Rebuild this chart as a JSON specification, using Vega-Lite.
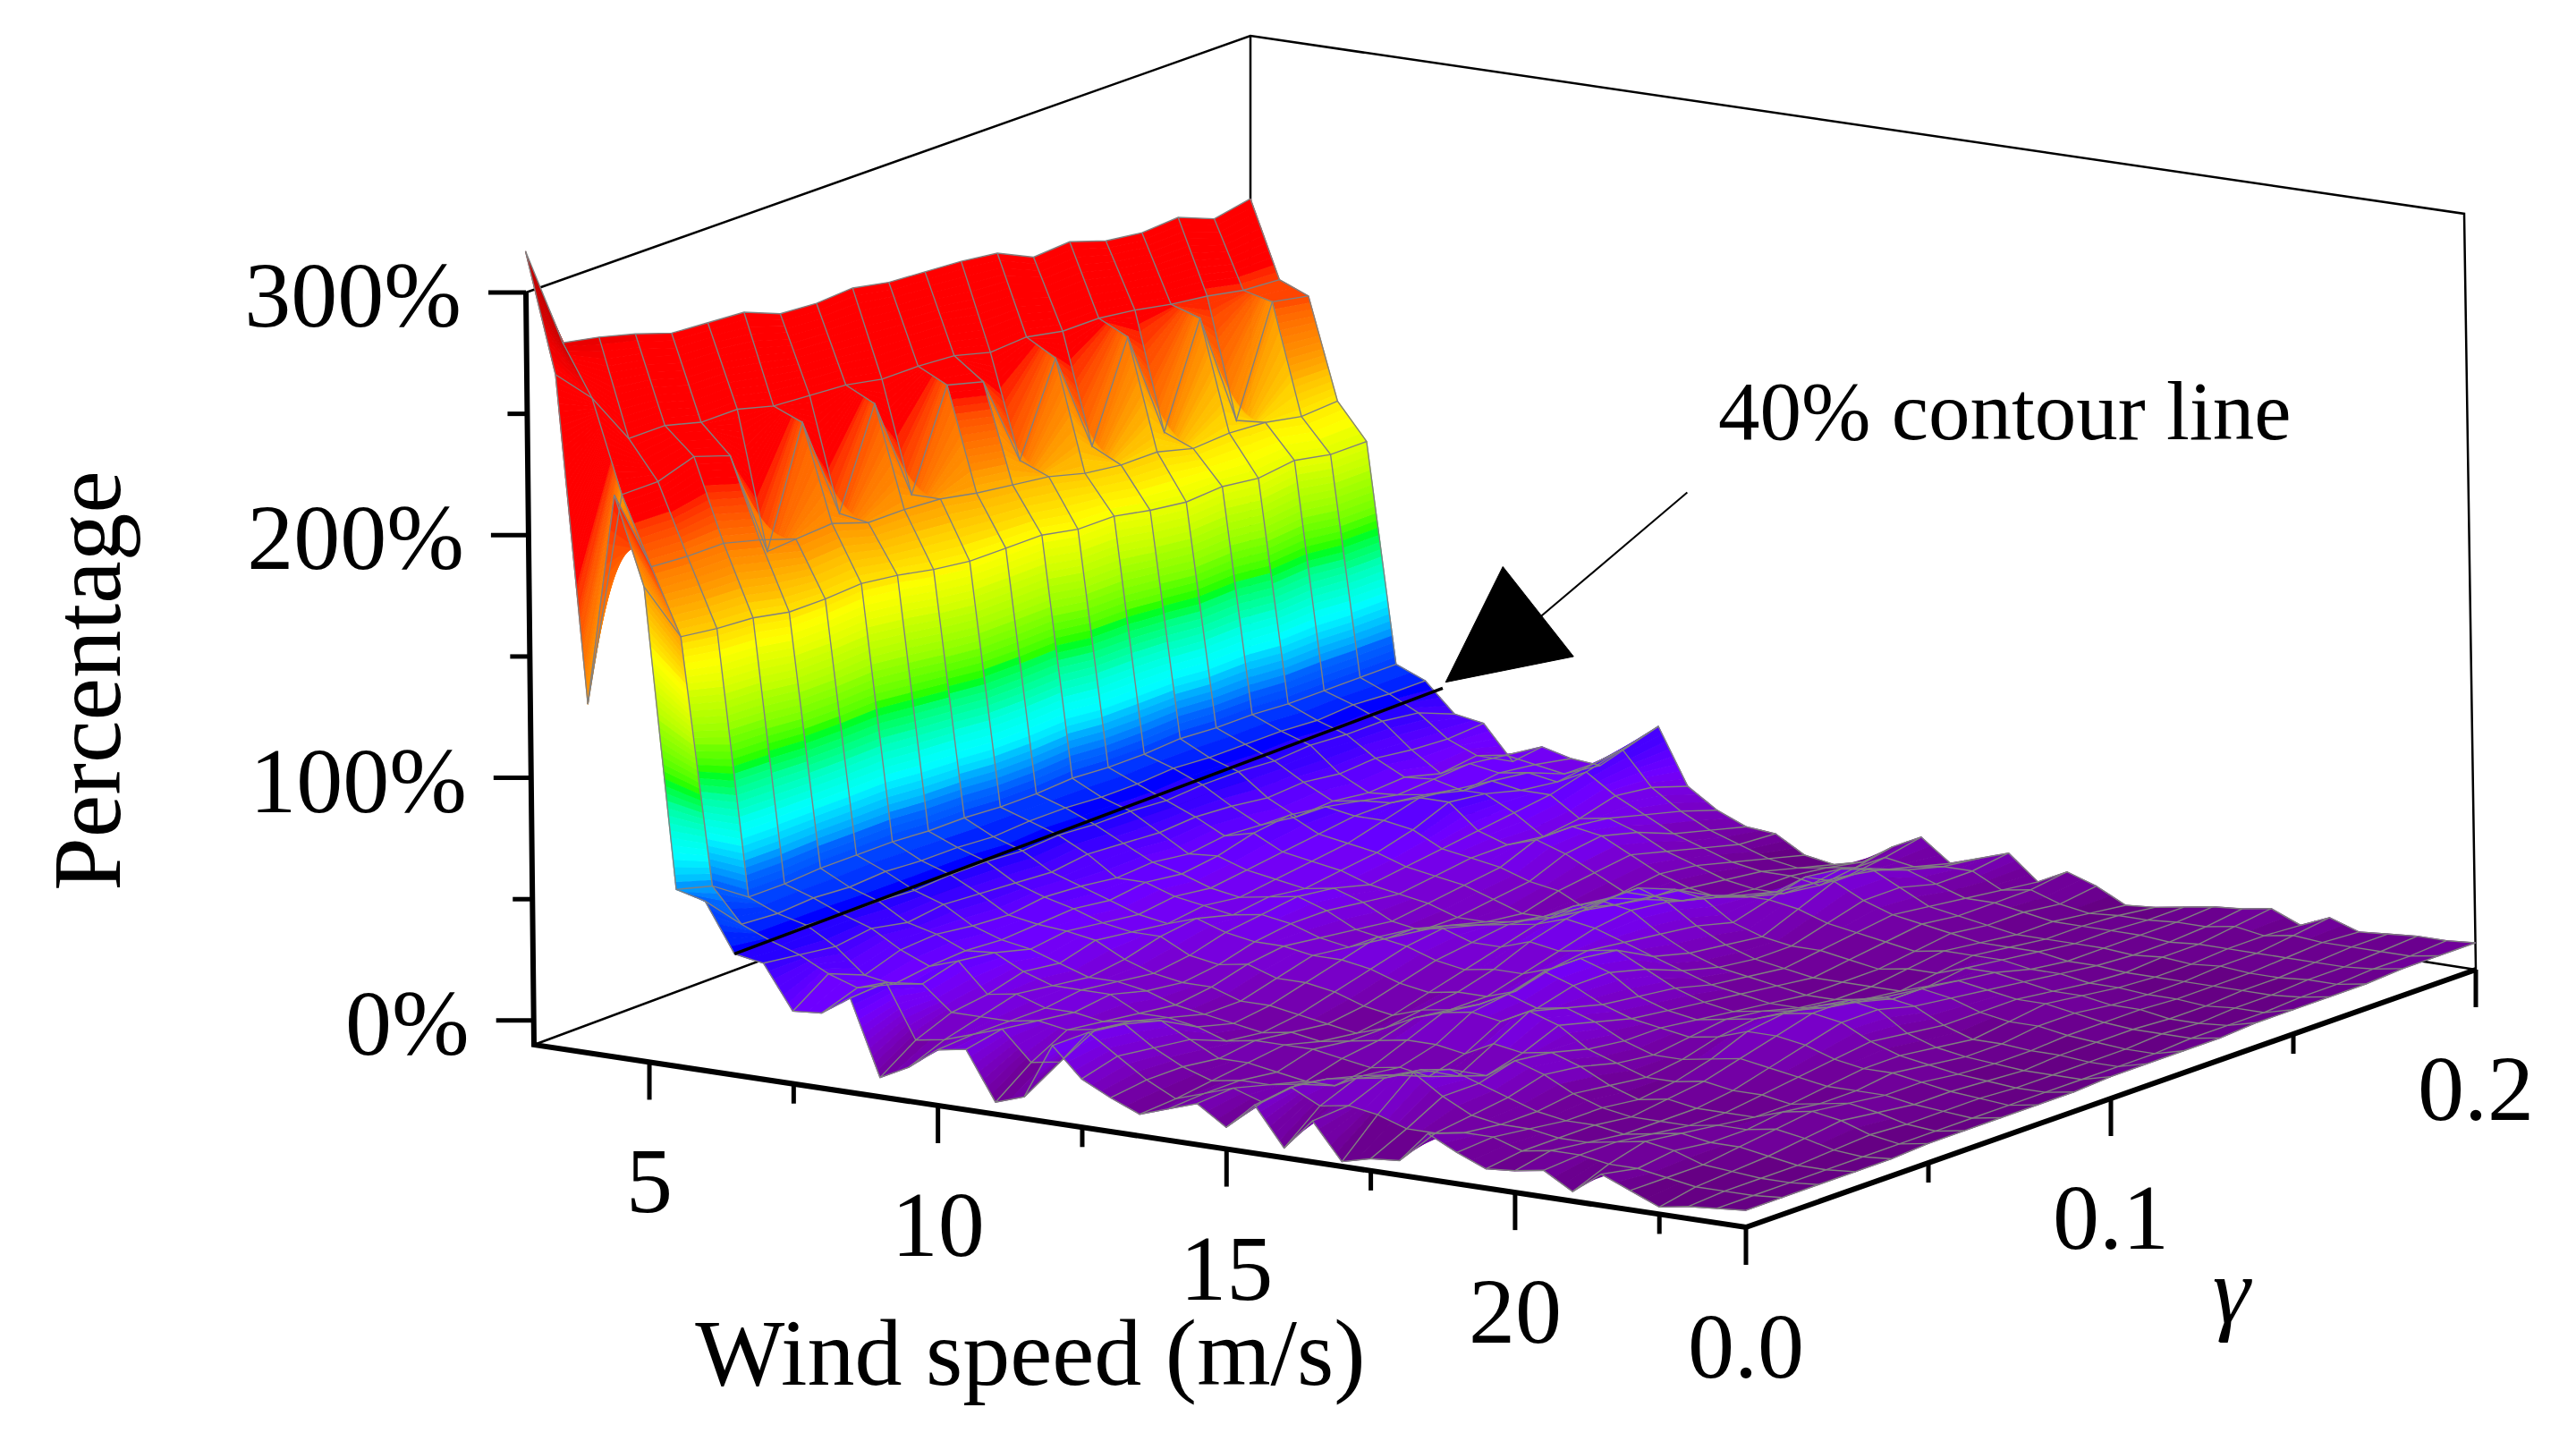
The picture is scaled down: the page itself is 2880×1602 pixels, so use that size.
{"$schema":"https://vega.github.io/schema/vega-lite/v6.json","autosize":{"type":"fit","contains":"padding"},"width":2880,"height":1602,"padding":0,"background":"white","view":{"stroke":null},
"datasets":{"grid":[
{"w":3,"g":0.2,"z":232},{"w":3,"g":0.19,"z":229},{"w":3,"g":0.18,"z":235},{"w":3,"g":0.17,"z":234},{"w":3,"g":0.16,"z":236},{"w":3,"g":0.15,"z":241},{"w":3,"g":0.14,"z":240},{"w":3,"g":0.13,"z":247},{"w":3,"g":0.12,"z":249},{"w":3,"g":0.11,"z":250},{"w":3,"g":0.1,"z":251},{"w":3,"g":0.09,"z":254},{"w":3,"g":0.08,"z":253},{"w":3,"g":0.07,"z":254},{"w":3,"g":0.06,"z":260},{"w":3,"g":0.05,"z":261},{"w":3,"g":0.04,"z":262},{"w":3,"g":0.03,"z":267},{"w":3,"g":0.02,"z":271},{"w":3,"g":0.01,"z":274},{"w":3,"g":0,"z":317},
{"w":3.5,"g":0.2,"z":200},{"w":3.5,"g":0.19,"z":201},{"w":3.5,"g":0.18,"z":204},{"w":3.5,"g":0.17,"z":206},{"w":3.5,"g":0.16,"z":209},{"w":3.5,"g":0.15,"z":211},{"w":3.5,"g":0.14,"z":211},{"w":3.5,"g":0.13,"z":214},{"w":3.5,"g":0.12,"z":213},{"w":3.5,"g":0.11,"z":217},{"w":3.5,"g":0.1,"z":218},{"w":3.5,"g":0.09,"z":218},{"w":3.5,"g":0.08,"z":221},{"w":3.5,"g":0.07,"z":222},{"w":3.5,"g":0.06,"z":223},{"w":3.5,"g":0.05,"z":227},{"w":3.5,"g":0.04,"z":227},{"w":3.5,"g":0.03,"z":231},{"w":3.5,"g":0.02,"z":231},{"w":3.5,"g":0.01,"z":253},{"w":3.5,"g":0,"z":268},
{"w":4,"g":0.2,"z":195},{"w":4,"g":0.19,"z":198},{"w":4,"g":0.18,"z":154},{"w":4,"g":0.17,"z":202},{"w":4,"g":0.16,"z":160},{"w":4,"g":0.15,"z":205},{"w":4,"g":0.14,"z":165},{"w":4,"g":0.13,"z":207},{"w":4,"g":0.12,"z":170},{"w":4,"g":0.11,"z":208},{"w":4,"g":0.1,"z":212},{"w":4,"g":0.09,"z":172},{"w":4,"g":0.08,"z":215},{"w":4,"g":0.07,"z":175},{"w":4,"g":0.06,"z":218},{"w":4,"g":0.05,"z":170},{"w":4,"g":0.04,"z":215},{"w":4,"g":0.03,"z":220},{"w":4,"g":0.02,"z":215},{"w":4,"g":0.01,"z":215},{"w":4,"g":0,"z":134},
{"w":4.5,"g":0.2,"z":153},{"w":4.5,"g":0.19,"z":152},{"w":4.5,"g":0.18,"z":155},{"w":4.5,"g":0.17,"z":156},{"w":4.5,"g":0.16,"z":155},{"w":4.5,"g":0.15,"z":159},{"w":4.5,"g":0.14,"z":159},{"w":4.5,"g":0.13,"z":161},{"w":4.5,"g":0.12,"z":165},{"w":4.5,"g":0.11,"z":167},{"w":4.5,"g":0.1,"z":169},{"w":4.5,"g":0.09,"z":172},{"w":4.5,"g":0.08,"z":173},{"w":4.5,"g":0.07,"z":173},{"w":4.5,"g":0.06,"z":178},{"w":4.5,"g":0.05,"z":177},{"w":4.5,"g":0.04,"z":182},{"w":4.5,"g":0.03,"z":186},{"w":4.5,"g":0.02,"z":186},{"w":4.5,"g":0.01,"z":187},{"w":4.5,"g":0,"z":222},
{"w":5,"g":0.2,"z":138},{"w":5,"g":0.19,"z":138},{"w":5,"g":0.18,"z":141},{"w":5,"g":0.17,"z":139},{"w":5,"g":0.16,"z":141},{"w":5,"g":0.15,"z":140},{"w":5,"g":0.14,"z":142},{"w":5,"g":0.13,"z":145},{"w":5,"g":0.12,"z":145},{"w":5,"g":0.11,"z":148},{"w":5,"g":0.1,"z":148},{"w":5,"g":0.09,"z":148},{"w":5,"g":0.08,"z":150},{"w":5,"g":0.07,"z":153},{"w":5,"g":0.06,"z":155},{"w":5,"g":0.05,"z":154},{"w":5,"g":0.04,"z":154},{"w":5,"g":0.03,"z":157},{"w":5,"g":0.02,"z":158},{"w":5,"g":0.01,"z":160},{"w":5,"g":0,"z":186},
{"w":5.5,"g":0.2,"z":47},{"w":5.5,"g":0.19,"z":47},{"w":5.5,"g":0.18,"z":47},{"w":5.5,"g":0.17,"z":47},{"w":5.5,"g":0.16,"z":48},{"w":5.5,"g":0.15,"z":48},{"w":5.5,"g":0.14,"z":49},{"w":5.5,"g":0.13,"z":48},{"w":5.5,"g":0.12,"z":48},{"w":5.5,"g":0.11,"z":49},{"w":5.5,"g":0.1,"z":48},{"w":5.5,"g":0.09,"z":48},{"w":5.5,"g":0.08,"z":49},{"w":5.5,"g":0.07,"z":49},{"w":5.5,"g":0.06,"z":50},{"w":5.5,"g":0.05,"z":50},{"w":5.5,"g":0.04,"z":50},{"w":5.5,"g":0.03,"z":49},{"w":5.5,"g":0.02,"z":49},{"w":5.5,"g":0.01,"z":59},{"w":5.5,"g":0,"z":63},
{"w":6,"g":0.2,"z":42},{"w":6,"g":0.19,"z":42},{"w":6,"g":0.18,"z":43},{"w":6,"g":0.17,"z":42},{"w":6,"g":0.16,"z":43},{"w":6,"g":0.15,"z":43},{"w":6,"g":0.14,"z":43},{"w":6,"g":0.13,"z":44},{"w":6,"g":0.12,"z":43},{"w":6,"g":0.11,"z":43},{"w":6,"g":0.1,"z":44},{"w":6,"g":0.09,"z":44},{"w":6,"g":0.08,"z":43},{"w":6,"g":0.07,"z":44},{"w":6,"g":0.06,"z":44},{"w":6,"g":0.05,"z":45},{"w":6,"g":0.04,"z":44},{"w":6,"g":0.03,"z":45},{"w":6,"g":0.02,"z":44},{"w":6,"g":0.01,"z":45},{"w":6,"g":0,"z":60},
{"w":6.5,"g":0.2,"z":30},{"w":6.5,"g":0.19,"z":36},{"w":6.5,"g":0.18,"z":38},{"w":6.5,"g":0.17,"z":38},{"w":6.5,"g":0.16,"z":39},{"w":6.5,"g":0.15,"z":38},{"w":6.5,"g":0.14,"z":39},{"w":6.5,"g":0.13,"z":39},{"w":6.5,"g":0.12,"z":38},{"w":6.5,"g":0.11,"z":39},{"w":6.5,"g":0.1,"z":39},{"w":6.5,"g":0.09,"z":40},{"w":6.5,"g":0.08,"z":39},{"w":6.5,"g":0.07,"z":40},{"w":6.5,"g":0.06,"z":40},{"w":6.5,"g":0.05,"z":39},{"w":6.5,"g":0.04,"z":40},{"w":6.5,"g":0.03,"z":40},{"w":6.5,"g":0.02,"z":41},{"w":6.5,"g":0.01,"z":40},{"w":6.5,"g":0,"z":40},
{"w":7,"g":0.2,"z":28},{"w":7,"g":0.19,"z":27},{"w":7,"g":0.18,"z":28},{"w":7,"g":0.17,"z":30},{"w":7,"g":0.16,"z":29},{"w":7,"g":0.15,"z":31},{"w":7,"g":0.14,"z":30},{"w":7,"g":0.13,"z":32},{"w":7,"g":0.12,"z":33},{"w":7,"g":0.11,"z":32},{"w":7,"g":0.1,"z":33},{"w":7,"g":0.09,"z":34},{"w":7,"g":0.08,"z":32},{"w":7,"g":0.07,"z":33},{"w":7,"g":0.06,"z":34},{"w":7,"g":0.05,"z":35},{"w":7,"g":0.04,"z":33},{"w":7,"g":0.03,"z":36},{"w":7,"g":0.02,"z":34},{"w":7,"g":0.01,"z":36},{"w":7,"g":0,"z":38},
{"w":7.5,"g":0.2,"z":14},{"w":7.5,"g":0.19,"z":22},{"w":7.5,"g":0.18,"z":20},{"w":7.5,"g":0.17,"z":24},{"w":7.5,"g":0.16,"z":23},{"w":7.5,"g":0.15,"z":25},{"w":7.5,"g":0.14,"z":24},{"w":7.5,"g":0.13,"z":26},{"w":7.5,"g":0.12,"z":27},{"w":7.5,"g":0.11,"z":25},{"w":7.5,"g":0.1,"z":27},{"w":7.5,"g":0.09,"z":26},{"w":7.5,"g":0.08,"z":28},{"w":7.5,"g":0.07,"z":29},{"w":7.5,"g":0.06,"z":27},{"w":7.5,"g":0.05,"z":28},{"w":7.5,"g":0.04,"z":30},{"w":7.5,"g":0.03,"z":29},{"w":7.5,"g":0.02,"z":24},{"w":7.5,"g":0.01,"z":30},{"w":7.5,"g":0,"z":20},
{"w":8,"g":0.2,"z":22},{"w":8,"g":0.19,"z":24},{"w":8,"g":0.18,"z":26},{"w":8,"g":0.17,"z":25},{"w":8,"g":0.16,"z":24},{"w":8,"g":0.15,"z":27},{"w":8,"g":0.14,"z":30},{"w":8,"g":0.13,"z":32},{"w":8,"g":0.12,"z":30},{"w":8,"g":0.11,"z":26},{"w":8,"g":0.1,"z":24},{"w":8,"g":0.09,"z":26},{"w":8,"g":0.08,"z":24},{"w":8,"g":0.07,"z":26},{"w":8,"g":0.06,"z":25},{"w":8,"g":0.05,"z":24},{"w":8,"g":0.04,"z":25},{"w":8,"g":0.03,"z":24},{"w":8,"g":0.02,"z":22},{"w":8,"g":0.01,"z":26},{"w":8,"g":0,"z":21},
{"w":8.5,"g":0.2,"z":19},{"w":8.5,"g":0.19,"z":22},{"w":8.5,"g":0.18,"z":24},{"w":8.5,"g":0.17,"z":22},{"w":8.5,"g":0.16,"z":26},{"w":8.5,"g":0.15,"z":28},{"w":8.5,"g":0.14,"z":28},{"w":8.5,"g":0.13,"z":26},{"w":8.5,"g":0.12,"z":24},{"w":8.5,"g":0.11,"z":22},{"w":8.5,"g":0.1,"z":20},{"w":8.5,"g":0.09,"z":22},{"w":8.5,"g":0.08,"z":20},{"w":8.5,"g":0.07,"z":22},{"w":8.5,"g":0.06,"z":24},{"w":8.5,"g":0.05,"z":22},{"w":8.5,"g":0.04,"z":26},{"w":8.5,"g":0.03,"z":28},{"w":8.5,"g":0.02,"z":24},{"w":8.5,"g":0.01,"z":30},{"w":8.5,"g":0,"z":29},
{"w":9,"g":0.2,"z":18},{"w":9,"g":0.19,"z":20},{"w":9,"g":0.18,"z":26},{"w":9,"g":0.17,"z":28},{"w":9,"g":0.16,"z":30},{"w":9,"g":0.15,"z":32},{"w":9,"g":0.14,"z":28},{"w":9,"g":0.13,"z":24},{"w":9,"g":0.12,"z":22},{"w":9,"g":0.11,"z":20},{"w":9,"g":0.1,"z":18},{"w":9,"g":0.09,"z":20},{"w":9,"g":0.08,"z":18},{"w":9,"g":0.07,"z":20},{"w":9,"g":0.06,"z":22},{"w":9,"g":0.05,"z":18},{"w":9,"g":0.04,"z":20},{"w":9,"g":0.03,"z":16},{"w":9,"g":0.02,"z":14},{"w":9,"g":0.01,"z":8},{"w":9,"g":0,"z":-2},
{"w":9.5,"g":0.2,"z":28},{"w":9.5,"g":0.19,"z":26},{"w":9.5,"g":0.18,"z":24},{"w":9.5,"g":0.17,"z":26},{"w":9.5,"g":0.16,"z":30},{"w":9.5,"g":0.15,"z":32},{"w":9.5,"g":0.14,"z":26},{"w":9.5,"g":0.13,"z":22},{"w":9.5,"g":0.12,"z":20},{"w":9.5,"g":0.11,"z":18},{"w":9.5,"g":0.1,"z":20},{"w":9.5,"g":0.09,"z":18},{"w":9.5,"g":0.08,"z":22},{"w":9.5,"g":0.07,"z":20},{"w":9.5,"g":0.06,"z":16},{"w":9.5,"g":0.05,"z":14},{"w":9.5,"g":0.04,"z":16},{"w":9.5,"g":0.03,"z":18},{"w":9.5,"g":0.02,"z":14},{"w":9.5,"g":0.01,"z":10},{"w":9.5,"g":0,"z":4},
{"w":10,"g":0.2,"z":38},{"w":10,"g":0.19,"z":34},{"w":10,"g":0.18,"z":30},{"w":10,"g":0.17,"z":26},{"w":10,"g":0.16,"z":24},{"w":10,"g":0.15,"z":22},{"w":10,"g":0.14,"z":20},{"w":10,"g":0.13,"z":18},{"w":10,"g":0.12,"z":16},{"w":10,"g":0.11,"z":20},{"w":10,"g":0.1,"z":22},{"w":10,"g":0.09,"z":20},{"w":10,"g":0.08,"z":18},{"w":10,"g":0.07,"z":14},{"w":10,"g":0.06,"z":12},{"w":10,"g":0.05,"z":14},{"w":10,"g":0.04,"z":16},{"w":10,"g":0.03,"z":14},{"w":10,"g":0.02,"z":14},{"w":10,"g":0.01,"z":14},{"w":10,"g":0,"z":13},
{"w":10.5,"g":0.2,"z":15},{"w":10.5,"g":0.19,"z":20},{"w":10.5,"g":0.18,"z":22},{"w":10.5,"g":0.17,"z":18},{"w":10.5,"g":0.16,"z":16},{"w":10.5,"g":0.15,"z":18},{"w":10.5,"g":0.14,"z":18},{"w":10.5,"g":0.13,"z":16},{"w":10.5,"g":0.12,"z":14},{"w":10.5,"g":0.11,"z":16},{"w":10.5,"g":0.1,"z":18},{"w":10.5,"g":0.09,"z":18},{"w":10.5,"g":0.08,"z":16},{"w":10.5,"g":0.07,"z":12},{"w":10.5,"g":0.06,"z":10},{"w":10.5,"g":0.05,"z":12},{"w":10.5,"g":0.04,"z":16},{"w":10.5,"g":0.03,"z":14},{"w":10.5,"g":0.02,"z":16},{"w":10.5,"g":0.01,"z":18},{"w":10.5,"g":0,"z":15},
{"w":11,"g":0.2,"z":7},{"w":11,"g":0.19,"z":12},{"w":11,"g":0.18,"z":16},{"w":11,"g":0.17,"z":20},{"w":11,"g":0.16,"z":22},{"w":11,"g":0.15,"z":22},{"w":11,"g":0.14,"z":16},{"w":11,"g":0.13,"z":14},{"w":11,"g":0.12,"z":12},{"w":11,"g":0.11,"z":10},{"w":11,"g":0.1,"z":12},{"w":11,"g":0.09,"z":14},{"w":11,"g":0.08,"z":16},{"w":11,"g":0.07,"z":14},{"w":11,"g":0.06,"z":10},{"w":11,"g":0.05,"z":8},{"w":11,"g":0.04,"z":10},{"w":11,"g":0.03,"z":12},{"w":11,"g":0.02,"z":14},{"w":11,"g":0.01,"z":6},{"w":11,"g":0,"z":-5},
{"w":11.5,"g":0.2,"z":2},{"w":11.5,"g":0.19,"z":6},{"w":11.5,"g":0.18,"z":10},{"w":11.5,"g":0.17,"z":16},{"w":11.5,"g":0.16,"z":20},{"w":11.5,"g":0.15,"z":18},{"w":11.5,"g":0.14,"z":12},{"w":11.5,"g":0.13,"z":10},{"w":11.5,"g":0.12,"z":8},{"w":11.5,"g":0.11,"z":8},{"w":11.5,"g":0.1,"z":10},{"w":11.5,"g":0.09,"z":12},{"w":11.5,"g":0.08,"z":14},{"w":11.5,"g":0.07,"z":10},{"w":11.5,"g":0.06,"z":6},{"w":11.5,"g":0.05,"z":6},{"w":11.5,"g":0.04,"z":10},{"w":11.5,"g":0.03,"z":14},{"w":11.5,"g":0.02,"z":16},{"w":11.5,"g":0.01,"z":8},{"w":11.5,"g":0,"z":-1},
{"w":12,"g":0.2,"z":1},{"w":12,"g":0.19,"z":2},{"w":12,"g":0.18,"z":6},{"w":12,"g":0.17,"z":10},{"w":12,"g":0.16,"z":14},{"w":12,"g":0.15,"z":12},{"w":12,"g":0.14,"z":10},{"w":12,"g":0.13,"z":6},{"w":12,"g":0.12,"z":8},{"w":12,"g":0.11,"z":12},{"w":12,"g":0.1,"z":16},{"w":12,"g":0.09,"z":18},{"w":12,"g":0.08,"z":14},{"w":12,"g":0.07,"z":10},{"w":12,"g":0.06,"z":6},{"w":12,"g":0.05,"z":4},{"w":12,"g":0.04,"z":8},{"w":12,"g":0.03,"z":16},{"w":12,"g":0.02,"z":20},{"w":12,"g":0.01,"z":22},{"w":12,"g":0,"z":22},
{"w":12.5,"g":0.2,"z":-6},{"w":12.5,"g":0.19,"z":-2},{"w":12.5,"g":0.18,"z":2},{"w":12.5,"g":0.17,"z":6},{"w":12.5,"g":0.16,"z":8},{"w":12.5,"g":0.15,"z":6},{"w":12.5,"g":0.14,"z":4},{"w":12.5,"g":0.13,"z":6},{"w":12.5,"g":0.12,"z":10},{"w":12.5,"g":0.11,"z":14},{"w":12.5,"g":0.1,"z":18},{"w":12.5,"g":0.09,"z":16},{"w":12.5,"g":0.08,"z":12},{"w":12.5,"g":0.07,"z":8},{"w":12.5,"g":0.06,"z":4},{"w":12.5,"g":0.05,"z":2},{"w":12.5,"g":0.04,"z":4},{"w":12.5,"g":0.03,"z":10},{"w":12.5,"g":0.02,"z":12},{"w":12.5,"g":0.01,"z":14},{"w":12.5,"g":0,"z":10},
{"w":13,"g":0.2,"z":-8},{"w":13,"g":0.19,"z":-4},{"w":13,"g":0.18,"z":0},{"w":13,"g":0.17,"z":2},{"w":13,"g":0.16,"z":4},{"w":13,"g":0.15,"z":6},{"w":13,"g":0.14,"z":8},{"w":13,"g":0.13,"z":12},{"w":13,"g":0.12,"z":14},{"w":13,"g":0.11,"z":16},{"w":13,"g":0.1,"z":14},{"w":13,"g":0.09,"z":12},{"w":13,"g":0.08,"z":8},{"w":13,"g":0.07,"z":4},{"w":13,"g":0.06,"z":2},{"w":13,"g":0.05,"z":4},{"w":13,"g":0.04,"z":6},{"w":13,"g":0.03,"z":4},{"w":13,"g":0.02,"z":6},{"w":13,"g":0.01,"z":6},{"w":13,"g":0,"z":4},
{"w":13.5,"g":0.2,"z":-5},{"w":13.5,"g":0.19,"z":-2},{"w":13.5,"g":0.18,"z":0},{"w":13.5,"g":0.17,"z":0},{"w":13.5,"g":0.16,"z":2},{"w":13.5,"g":0.15,"z":6},{"w":13.5,"g":0.14,"z":12},{"w":13.5,"g":0.13,"z":18},{"w":13.5,"g":0.12,"z":20},{"w":13.5,"g":0.11,"z":18},{"w":13.5,"g":0.1,"z":14},{"w":13.5,"g":0.09,"z":10},{"w":13.5,"g":0.08,"z":6},{"w":13.5,"g":0.07,"z":2},{"w":13.5,"g":0.06,"z":0},{"w":13.5,"g":0.05,"z":2},{"w":13.5,"g":0.04,"z":6},{"w":13.5,"g":0.03,"z":4},{"w":13.5,"g":0.02,"z":2},{"w":13.5,"g":0.01,"z":0},{"w":13.5,"g":0,"z":-1},
{"w":14,"g":0.2,"z":3},{"w":14,"g":0.19,"z":0},{"w":14,"g":0.18,"z":-2},{"w":14,"g":0.17,"z":0},{"w":14,"g":0.16,"z":4},{"w":14,"g":0.15,"z":10},{"w":14,"g":0.14,"z":18},{"w":14,"g":0.13,"z":24},{"w":14,"g":0.12,"z":24},{"w":14,"g":0.11,"z":22},{"w":14,"g":0.1,"z":18},{"w":14,"g":0.09,"z":12},{"w":14,"g":0.08,"z":8},{"w":14,"g":0.07,"z":6},{"w":14,"g":0.06,"z":4},{"w":14,"g":0.05,"z":4},{"w":14,"g":0.04,"z":6},{"w":14,"g":0.03,"z":2},{"w":14,"g":0.02,"z":4},{"w":14,"g":0.01,"z":4},{"w":14,"g":0,"z":3},
{"w":14.5,"g":0.2,"z":9},{"w":14.5,"g":0.19,"z":6},{"w":14.5,"g":0.18,"z":4},{"w":14.5,"g":0.17,"z":6},{"w":14.5,"g":0.16,"z":8},{"w":14.5,"g":0.15,"z":12},{"w":14.5,"g":0.14,"z":16},{"w":14.5,"g":0.13,"z":20},{"w":14.5,"g":0.12,"z":22},{"w":14.5,"g":0.11,"z":20},{"w":14.5,"g":0.1,"z":16},{"w":14.5,"g":0.09,"z":12},{"w":14.5,"g":0.08,"z":8},{"w":14.5,"g":0.07,"z":8},{"w":14.5,"g":0.06,"z":10},{"w":14.5,"g":0.05,"z":6},{"w":14.5,"g":0.04,"z":4},{"w":14.5,"g":0.03,"z":0},{"w":14.5,"g":0.02,"z":4},{"w":14.5,"g":0.01,"z":8},{"w":14.5,"g":0,"z":7},
{"w":15,"g":0.2,"z":0},{"w":15,"g":0.19,"z":4},{"w":15,"g":0.18,"z":8},{"w":15,"g":0.17,"z":14},{"w":15,"g":0.16,"z":16},{"w":15,"g":0.15,"z":12},{"w":15,"g":0.14,"z":8},{"w":15,"g":0.13,"z":12},{"w":15,"g":0.12,"z":14},{"w":15,"g":0.11,"z":16},{"w":15,"g":0.1,"z":18},{"w":15,"g":0.09,"z":16},{"w":15,"g":0.08,"z":12},{"w":15,"g":0.07,"z":12},{"w":15,"g":0.06,"z":14},{"w":15,"g":0.05,"z":8},{"w":15,"g":0.04,"z":2},{"w":15,"g":0.03,"z":0},{"w":15,"g":0.02,"z":6},{"w":15,"g":0.01,"z":4},{"w":15,"g":0,"z":-1},
{"w":15.5,"g":0.2,"z":4},{"w":15.5,"g":0.19,"z":6},{"w":15.5,"g":0.18,"z":10},{"w":15.5,"g":0.17,"z":16},{"w":15.5,"g":0.16,"z":16},{"w":15.5,"g":0.15,"z":10},{"w":15.5,"g":0.14,"z":4},{"w":15.5,"g":0.13,"z":6},{"w":15.5,"g":0.12,"z":8},{"w":15.5,"g":0.11,"z":12},{"w":15.5,"g":0.1,"z":20},{"w":15.5,"g":0.09,"z":22},{"w":15.5,"g":0.08,"z":22},{"w":15.5,"g":0.07,"z":18},{"w":15.5,"g":0.06,"z":16},{"w":15.5,"g":0.05,"z":8},{"w":15.5,"g":0.04,"z":4},{"w":15.5,"g":0.03,"z":6},{"w":15.5,"g":0.02,"z":10},{"w":15.5,"g":0.01,"z":12},{"w":15.5,"g":0,"z":10},
{"w":16,"g":0.2,"z":8},{"w":16,"g":0.19,"z":6},{"w":16,"g":0.18,"z":6},{"w":16,"g":0.17,"z":10},{"w":16,"g":0.16,"z":10},{"w":16,"g":0.15,"z":6},{"w":16,"g":0.14,"z":2},{"w":16,"g":0.13,"z":2},{"w":16,"g":0.12,"z":4},{"w":16,"g":0.11,"z":8},{"w":16,"g":0.1,"z":14},{"w":16,"g":0.09,"z":18},{"w":16,"g":0.08,"z":18},{"w":16,"g":0.07,"z":14},{"w":16,"g":0.06,"z":14},{"w":16,"g":0.05,"z":6},{"w":16,"g":0.04,"z":2},{"w":16,"g":0.03,"z":8},{"w":16,"g":0.02,"z":12},{"w":16,"g":0.01,"z":6},{"w":16,"g":0,"z":-6},
{"w":16.5,"g":0.2,"z":-2},{"w":16.5,"g":0.19,"z":0},{"w":16.5,"g":0.18,"z":2},{"w":16.5,"g":0.17,"z":4},{"w":16.5,"g":0.16,"z":6},{"w":16.5,"g":0.15,"z":4},{"w":16.5,"g":0.14,"z":2},{"w":16.5,"g":0.13,"z":0},{"w":16.5,"g":0.12,"z":2},{"w":16.5,"g":0.11,"z":4},{"w":16.5,"g":0.1,"z":8},{"w":16.5,"g":0.09,"z":10},{"w":16.5,"g":0.08,"z":12},{"w":16.5,"g":0.07,"z":16},{"w":16.5,"g":0.06,"z":20},{"w":16.5,"g":0.05,"z":12},{"w":16.5,"g":0.04,"z":4},{"w":16.5,"g":0.03,"z":12},{"w":16.5,"g":0.02,"z":14},{"w":16.5,"g":0.01,"z":8},{"w":16.5,"g":0,"z":7},
{"w":17,"g":0.2,"z":4},{"w":17,"g":0.19,"z":2},{"w":17,"g":0.18,"z":2},{"w":17,"g":0.17,"z":2},{"w":17,"g":0.16,"z":4},{"w":17,"g":0.15,"z":2},{"w":17,"g":0.14,"z":0},{"w":17,"g":0.13,"z":-2},{"w":17,"g":0.12,"z":0},{"w":17,"g":0.11,"z":2},{"w":17,"g":0.1,"z":4},{"w":17,"g":0.09,"z":6},{"w":17,"g":0.08,"z":8},{"w":17,"g":0.07,"z":12},{"w":17,"g":0.06,"z":16},{"w":17,"g":0.05,"z":10},{"w":17,"g":0.04,"z":6},{"w":17,"g":0.03,"z":14},{"w":17,"g":0.02,"z":18},{"w":17,"g":0.01,"z":6},{"w":17,"g":0,"z":-8},
{"w":17.5,"g":0.2,"z":0},{"w":17.5,"g":0.19,"z":-2},{"w":17.5,"g":0.18,"z":0},{"w":17.5,"g":0.17,"z":0},{"w":17.5,"g":0.16,"z":2},{"w":17.5,"g":0.15,"z":0},{"w":17.5,"g":0.14,"z":-2},{"w":17.5,"g":0.13,"z":-2},{"w":17.5,"g":0.12,"z":-2},{"w":17.5,"g":0.11,"z":0},{"w":17.5,"g":0.1,"z":2},{"w":17.5,"g":0.09,"z":4},{"w":17.5,"g":0.08,"z":6},{"w":17.5,"g":0.07,"z":6},{"w":17.5,"g":0.06,"z":8},{"w":17.5,"g":0.05,"z":12},{"w":17.5,"g":0.04,"z":14},{"w":17.5,"g":0.03,"z":10},{"w":17.5,"g":0.02,"z":10},{"w":17.5,"g":0.01,"z":2},{"w":17.5,"g":0,"z":-5},
{"w":18,"g":0.2,"z":-6},{"w":18,"g":0.19,"z":-4},{"w":18,"g":0.18,"z":-2},{"w":18,"g":0.17,"z":-2},{"w":18,"g":0.16,"z":0},{"w":18,"g":0.15,"z":2},{"w":18,"g":0.14,"z":0},{"w":18,"g":0.13,"z":-2},{"w":18,"g":0.12,"z":-2},{"w":18,"g":0.11,"z":0},{"w":18,"g":0.1,"z":4},{"w":18,"g":0.09,"z":6},{"w":18,"g":0.08,"z":4},{"w":18,"g":0.07,"z":2},{"w":18,"g":0.06,"z":4},{"w":18,"g":0.05,"z":8},{"w":18,"g":0.04,"z":10},{"w":18,"g":0.03,"z":6},{"w":18,"g":0.02,"z":4},{"w":18,"g":0.01,"z":2},{"w":18,"g":0,"z":-4},
{"w":18.5,"g":0.2,"z":-5},{"w":18.5,"g":0.19,"z":-3},{"w":18.5,"g":0.18,"z":-2},{"w":18.5,"g":0.17,"z":-2},{"w":18.5,"g":0.16,"z":0},{"w":18.5,"g":0.15,"z":2},{"w":18.5,"g":0.14,"z":0},{"w":18.5,"g":0.13,"z":-2},{"w":18.5,"g":0.12,"z":0},{"w":18.5,"g":0.11,"z":2},{"w":18.5,"g":0.1,"z":6},{"w":18.5,"g":0.09,"z":8},{"w":18.5,"g":0.08,"z":6},{"w":18.5,"g":0.07,"z":2},{"w":18.5,"g":0.06,"z":0},{"w":18.5,"g":0.05,"z":2},{"w":18.5,"g":0.04,"z":4},{"w":18.5,"g":0.03,"z":2},{"w":18.5,"g":0.02,"z":2},{"w":18.5,"g":0.01,"z":4},{"w":18.5,"g":0,"z":9},
{"w":19,"g":0.2,"z":-3},{"w":19,"g":0.19,"z":-3},{"w":19,"g":0.18,"z":-2},{"w":19,"g":0.17,"z":-2},{"w":19,"g":0.16,"z":0},{"w":19,"g":0.15,"z":2},{"w":19,"g":0.14,"z":4},{"w":19,"g":0.13,"z":2},{"w":19,"g":0.12,"z":2},{"w":19,"g":0.11,"z":6},{"w":19,"g":0.1,"z":10},{"w":19,"g":0.09,"z":12},{"w":19,"g":0.08,"z":10},{"w":19,"g":0.07,"z":4},{"w":19,"g":0.06,"z":0},{"w":19,"g":0.05,"z":-2},{"w":19,"g":0.04,"z":0},{"w":19,"g":0.03,"z":0},{"w":19,"g":0.02,"z":2},{"w":19,"g":0.01,"z":4},{"w":19,"g":0,"z":3},
{"w":19.5,"g":0.2,"z":-1},{"w":19.5,"g":0.19,"z":-2},{"w":19.5,"g":0.18,"z":-2},{"w":19.5,"g":0.17,"z":-2},{"w":19.5,"g":0.16,"z":-2},{"w":19.5,"g":0.15,"z":0},{"w":19.5,"g":0.14,"z":4},{"w":19.5,"g":0.13,"z":6},{"w":19.5,"g":0.12,"z":8},{"w":19.5,"g":0.11,"z":10},{"w":19.5,"g":0.1,"z":14},{"w":19.5,"g":0.09,"z":14},{"w":19.5,"g":0.08,"z":10},{"w":19.5,"g":0.07,"z":6},{"w":19.5,"g":0.06,"z":2},{"w":19.5,"g":0.05,"z":0},{"w":19.5,"g":0.04,"z":-2},{"w":19.5,"g":0.03,"z":0},{"w":19.5,"g":0.02,"z":0},{"w":19.5,"g":0.01,"z":0},{"w":19.5,"g":0,"z":-2},
{"w":20,"g":0.2,"z":0},{"w":20,"g":0.19,"z":-2},{"w":20,"g":0.18,"z":-3},{"w":20,"g":0.17,"z":-3},{"w":20,"g":0.16,"z":-2},{"w":20,"g":0.15,"z":0},{"w":20,"g":0.14,"z":2},{"w":20,"g":0.13,"z":4},{"w":20,"g":0.12,"z":6},{"w":20,"g":0.11,"z":8},{"w":20,"g":0.1,"z":12},{"w":20,"g":0.09,"z":12},{"w":20,"g":0.08,"z":8},{"w":20,"g":0.07,"z":4},{"w":20,"g":0.06,"z":0},{"w":20,"g":0.05,"z":-2},{"w":20,"g":0.04,"z":-2},{"w":20,"g":0.03,"z":-2},{"w":20,"g":0.02,"z":0},{"w":20,"g":0.01,"z":2},{"w":20,"g":0,"z":-1},
{"w":20.5,"g":0.2,"z":2},{"w":20.5,"g":0.19,"z":0},{"w":20.5,"g":0.18,"z":-2},{"w":20.5,"g":0.17,"z":-2},{"w":20.5,"g":0.16,"z":-3},{"w":20.5,"g":0.15,"z":-2},{"w":20.5,"g":0.14,"z":0},{"w":20.5,"g":0.13,"z":2},{"w":20.5,"g":0.12,"z":2},{"w":20.5,"g":0.11,"z":2},{"w":20.5,"g":0.1,"z":4},{"w":20.5,"g":0.09,"z":6},{"w":20.5,"g":0.08,"z":4},{"w":20.5,"g":0.07,"z":2},{"w":20.5,"g":0.06,"z":0},{"w":20.5,"g":0.05,"z":-2},{"w":20.5,"g":0.04,"z":-2},{"w":20.5,"g":0.03,"z":0},{"w":20.5,"g":0.02,"z":2},{"w":20.5,"g":0.01,"z":2},{"w":20.5,"g":0,"z":1},
{"w":21,"g":0.2,"z":-3},{"w":21,"g":0.19,"z":-2},{"w":21,"g":0.18,"z":-2},{"w":21,"g":0.17,"z":-3},{"w":21,"g":0.16,"z":-3},{"w":21,"g":0.15,"z":-2},{"w":21,"g":0.14,"z":0},{"w":21,"g":0.13,"z":2},{"w":21,"g":0.12,"z":0},{"w":21,"g":0.11,"z":-2},{"w":21,"g":0.1,"z":0},{"w":21,"g":0.09,"z":2},{"w":21,"g":0.08,"z":2},{"w":21,"g":0.07,"z":0},{"w":21,"g":0.06,"z":-2},{"w":21,"g":0.05,"z":-2},{"w":21,"g":0.04,"z":0},{"w":21,"g":0.03,"z":2},{"w":21,"g":0.02,"z":4},{"w":21,"g":0.01,"z":0},{"w":21,"g":0,"z":-6},
{"w":21.5,"g":0.2,"z":2},{"w":21.5,"g":0.19,"z":0},{"w":21.5,"g":0.18,"z":-2},{"w":21.5,"g":0.17,"z":-2},{"w":21.5,"g":0.16,"z":-3},{"w":21.5,"g":0.15,"z":-3},{"w":21.5,"g":0.14,"z":-2},{"w":21.5,"g":0.13,"z":0},{"w":21.5,"g":0.12,"z":0},{"w":21.5,"g":0.11,"z":-2},{"w":21.5,"g":0.1,"z":-2},{"w":21.5,"g":0.09,"z":0},{"w":21.5,"g":0.08,"z":2},{"w":21.5,"g":0.07,"z":0},{"w":21.5,"g":0.06,"z":0},{"w":21.5,"g":0.05,"z":2},{"w":21.5,"g":0.04,"z":0},{"w":21.5,"g":0.03,"z":0},{"w":21.5,"g":0.02,"z":2},{"w":21.5,"g":0.01,"z":0},{"w":21.5,"g":0,"z":3},
{"w":22,"g":0.2,"z":-2},{"w":22,"g":0.19,"z":-1},{"w":22,"g":0.18,"z":-2},{"w":22,"g":0.17,"z":-3},{"w":22,"g":0.16,"z":-3},{"w":22,"g":0.15,"z":-3},{"w":22,"g":0.14,"z":-2},{"w":22,"g":0.13,"z":-2},{"w":22,"g":0.12,"z":-2},{"w":22,"g":0.11,"z":-3},{"w":22,"g":0.1,"z":-3},{"w":22,"g":0.09,"z":-2},{"w":22,"g":0.08,"z":0},{"w":22,"g":0.07,"z":0},{"w":22,"g":0.06,"z":2},{"w":22,"g":0.05,"z":4},{"w":22,"g":0.04,"z":2},{"w":22,"g":0.03,"z":0},{"w":22,"g":0.02,"z":-2},{"w":22,"g":0.01,"z":-2},{"w":22,"g":0,"z":-2},
{"w":22.5,"g":0.2,"z":-1},{"w":22.5,"g":0.19,"z":-1},{"w":22.5,"g":0.18,"z":-2},{"w":22.5,"g":0.17,"z":-3},{"w":22.5,"g":0.16,"z":-3},{"w":22.5,"g":0.15,"z":-4},{"w":22.5,"g":0.14,"z":-4},{"w":22.5,"g":0.13,"z":-3},{"w":22.5,"g":0.12,"z":-3},{"w":22.5,"g":0.11,"z":-3},{"w":22.5,"g":0.1,"z":-4},{"w":22.5,"g":0.09,"z":-3},{"w":22.5,"g":0.08,"z":-2},{"w":22.5,"g":0.07,"z":-2},{"w":22.5,"g":0.06,"z":0},{"w":22.5,"g":0.05,"z":2},{"w":22.5,"g":0.04,"z":0},{"w":22.5,"g":0.03,"z":-2},{"w":22.5,"g":0.02,"z":-3},{"w":22.5,"g":0.01,"z":-4},{"w":22.5,"g":0,"z":-7},
{"w":23,"g":0.2,"z":0},{"w":23,"g":0.19,"z":-1},{"w":23,"g":0.18,"z":-2},{"w":23,"g":0.17,"z":-2},{"w":23,"g":0.16,"z":-3},{"w":23,"g":0.15,"z":-3},{"w":23,"g":0.14,"z":-4},{"w":23,"g":0.13,"z":-3},{"w":23,"g":0.12,"z":-4},{"w":23,"g":0.11,"z":-4},{"w":23,"g":0.1,"z":-4},{"w":23,"g":0.09,"z":-4},{"w":23,"g":0.08,"z":-3},{"w":23,"g":0.07,"z":-3},{"w":23,"g":0.06,"z":-3},{"w":23,"g":0.05,"z":-2},{"w":23,"g":0.04,"z":-3},{"w":23,"g":0.03,"z":-4},{"w":23,"g":0.02,"z":-4},{"w":23,"g":0.01,"z":-4},{"w":23,"g":0,"z":-5},
{"w":23.5,"g":0.2,"z":0},{"w":23.5,"g":0.19,"z":-1},{"w":23.5,"g":0.18,"z":-1},{"w":23.5,"g":0.17,"z":-2},{"w":23.5,"g":0.16,"z":-2},{"w":23.5,"g":0.15,"z":-3},{"w":23.5,"g":0.14,"z":-3},{"w":23.5,"g":0.13,"z":-3},{"w":23.5,"g":0.12,"z":-4},{"w":23.5,"g":0.11,"z":-4},{"w":23.5,"g":0.1,"z":-4},{"w":23.5,"g":0.09,"z":-4},{"w":23.5,"g":0.08,"z":-4},{"w":23.5,"g":0.07,"z":-4},{"w":23.5,"g":0.06,"z":-4},{"w":23.5,"g":0.05,"z":-4},{"w":23.5,"g":0.04,"z":-4},{"w":23.5,"g":0.03,"z":-4},{"w":23.5,"g":0.02,"z":-4},{"w":23.5,"g":0.01,"z":-4},{"w":23.5,"g":0,"z":-4},
{"w":24,"g":0.2,"z":1},{"w":24,"g":0.19,"z":1},{"w":24,"g":0.18,"z":1},{"w":24,"g":0.17,"z":0},{"w":24,"g":0.16,"z":0},{"w":24,"g":0.15,"z":0},{"w":24,"g":0.14,"z":0},{"w":24,"g":0.13,"z":-1},{"w":24,"g":0.12,"z":-1},{"w":24,"g":0.11,"z":-1},{"w":24,"g":0.1,"z":-1},{"w":24,"g":0.09,"z":-2},{"w":24,"g":0.08,"z":-2},{"w":24,"g":0.07,"z":-2},{"w":24,"g":0.06,"z":-2},{"w":24,"g":0.05,"z":-2},{"w":24,"g":0.04,"z":-3},{"w":24,"g":0.03,"z":-3},{"w":24,"g":0.02,"z":-3},{"w":24,"g":0.01,"z":-3},{"w":24,"g":0,"z":-3}
],
"anno":[
{"part":"box","id":"floor","n":0,"w":3,"g":0,"z":-10},{"part":"box","id":"floor","n":1,"w":3,"g":0.2,"z":-10},{"part":"box","id":"floor","n":2,"w":24,"g":0.2,"z":-10},
{"part":"box","id":"back","n":0,"w":3,"g":0.2,"z":-10},{"part":"box","id":"back","n":1,"w":3,"g":0.2,"z":300},
{"part":"box","id":"top","n":0,"w":3,"g":0,"z":300},{"part":"box","id":"top","n":1,"w":3,"g":0.2,"z":300},{"part":"box","id":"top","n":2,"w":24,"g":0.2,"z":300},{"part":"box","id":"top","n":3,"w":24,"g":0.2,"z":-10},
{"part":"axis","n":0,"w":3,"g":0,"z":300},{"part":"axis","n":1,"w":3,"g":0,"z":-10},{"part":"axis","n":2,"w":24,"g":0,"z":-10},{"part":"axis","n":3,"w":24,"g":0.2,"z":-10},
{"part":"contour","n":0,"w":6.5,"g":0,"z":40},{"part":"contour","n":1,"w":6.3,"g":0.2,"z":40},
{"part":"arrow","n":0,"w":10.52,"g":0.2,"z":137},{"part":"arrow","n":1,"w":7.9,"g":0.2,"z":74},
{"part":"tri","n":0,"w":6.35,"g":0.2,"z":42.7},{"part":"tri","n":1,"w":7.34,"g":0.2,"z":94.5},{"part":"tri","n":2,"w":8.55,"g":0.2,"z":61.6},{"part":"tri","n":3,"w":6.35,"g":0.2,"z":42.7},
{"part":"tick","dir":"left","major":1,"w":3,"g":0,"z":0},{"part":"tick","dir":"left","major":0,"w":3,"g":0,"z":50},{"part":"tick","dir":"left","major":1,"w":3,"g":0,"z":100},{"part":"tick","dir":"left","major":0,"w":3,"g":0,"z":150},{"part":"tick","dir":"left","major":1,"w":3,"g":0,"z":200},{"part":"tick","dir":"left","major":0,"w":3,"g":0,"z":250},{"part":"tick","dir":"left","major":1,"w":3,"g":0,"z":300},
{"part":"tick","dir":"down","major":1,"w":5,"g":0,"z":-10},{"part":"tick","dir":"down","major":0,"w":7.5,"g":0,"z":-10},{"part":"tick","dir":"down","major":1,"w":10,"g":0,"z":-10},{"part":"tick","dir":"down","major":0,"w":12.5,"g":0,"z":-10},{"part":"tick","dir":"down","major":1,"w":15,"g":0,"z":-10},{"part":"tick","dir":"down","major":0,"w":17.5,"g":0,"z":-10},{"part":"tick","dir":"down","major":1,"w":20,"g":0,"z":-10},{"part":"tick","dir":"down","major":0,"w":22.5,"g":0,"z":-10},
{"part":"tick","dir":"down","major":1,"w":24,"g":0,"z":-10},{"part":"tick","dir":"down","major":0,"w":24,"g":0.05,"z":-10},{"part":"tick","dir":"down","major":1,"w":24,"g":0.1,"z":-10},{"part":"tick","dir":"down","major":0,"w":24,"g":0.15,"z":-10},{"part":"tick","dir":"down","major":1,"w":24,"g":0.2,"z":-10},
{"part":"zlab","label":"0%","w":3,"g":0,"z":0},{"part":"zlab","label":"100%","w":3,"g":0,"z":100},{"part":"zlab","label":"200%","w":3,"g":0,"z":200},{"part":"zlab","label":"300%","w":3,"g":0,"z":300},
{"part":"xlab","label":"5","w":5,"g":0,"z":-10},{"part":"xlab","label":"10","w":10,"g":0,"z":-10},{"part":"xlab","label":"15","w":15,"g":0,"z":-10},{"part":"xlab","label":"20","w":20,"g":0,"z":-10},
{"part":"xlab","label":"0.0","w":24,"g":0,"z":-10},{"part":"xlab","label":"0.1","w":24,"g":0.1,"z":-10},{"part":"xlab","label":"0.2","w":24,"g":0.2,"z":-10},
{"part":"xtitle","label":"Wind speed (m/s)","w":11.6,"g":0,"z":-10},
{"part":"gtitle","label":"γ","w":24,"g":0.133,"z":-10},
{"part":"ztitle","label":"Percentage","w":3,"g":0,"z":140},
{"part":"note","label":"40% contour line","w":16,"g":0.2,"z":179}
]},
"encoding":{"x":{"field":"px","type":"quantitative","scale":{"domain":[0,2880],"nice":false,"zero":false},"axis":null},"y":{"field":"py","type":"quantitative","scale":{"domain":[0,1602],"nice":false,"zero":false,"reverse":true},"axis":null}},
"layer":[
{"data":{"name":"anno"},
"transform":[{"calculate":"(datum.w-3)/21","as":"u"},{"calculate":"datum.g/0.2","as":"v"},
{"calculate":"597*(1-datum.u)*(1-datum.v)+1952*datum.u*(1-datum.v)+2768*datum.u*datum.v+1398*(1-datum.u)*datum.v-(9*(1-datum.u)*(1-datum.v)+15*datum.u*(1-datum.v)+13*datum.u*datum.v)*(datum.z+10)/310","as":"px"},
{"calculate":"1168*(1-datum.u)*(1-datum.v)+1372*datum.u*(1-datum.v)+1084*datum.u*datum.v+870*(1-datum.u)*datum.v-(datum.z+10)*(2.713*(1-datum.u)*(1-datum.v)+2.7*datum.u*(1-datum.v)+2.726*datum.u*datum.v+2.677*(1-datum.u)*datum.v)","as":"py"}],
"layer":[
{"transform":[{"filter":"datum.part=='box'"}],"mark":{"type":"line","stroke":"black","strokeWidth":2.5},"encoding":{"detail":{"field":"id"},"order":{"field":"n","type":"quantitative"}}},
{"transform":[{"filter":"datum.part=='axis'"}],"mark":{"type":"line","stroke":"black","strokeWidth":6},"encoding":{"order":{"field":"n","type":"quantitative"}}}
]},
{"data":{"name":"grid"},
"transform":[
{"window":[{"op":"lead","field":"z","param":1,"as":"zE"},{"op":"lead","field":"w","param":1,"as":"wE"}],"groupby":["g"],"sort":[{"field":"w","order":"ascending"}]},
{"window":[{"op":"lead","field":"z","param":1,"as":"zN"},{"op":"lead","field":"zE","param":1,"as":"zNE"},{"op":"lead","field":"g","param":1,"as":"gN"}],"groupby":["w"],"sort":[{"field":"g","order":"ascending"}]},
{"filter":"datum.wE!=null && datum.gN!=null"},
{"calculate":"max(1,ceil(max(abs(datum.zE-datum.z),abs(datum.zNE-datum.zN))/3))","as":"n"},
{"calculate":"sequence(0,datum.n)","as":"s"},{"flatten":["s"]},
{"calculate":"(datum.s+0.5)/datum.n","as":"tm"},
{"calculate":"floor((datum.z+(datum.zE-datum.z)*datum.tm+datum.zN+(datum.zNE-datum.zN)*datum.tm)/2/2.5)*2.5","as":"cz"},
{"calculate":"datum.w+'_'+datum.g+'_'+datum.s","as":"id"},
{"calculate":"[0,1,2,3]","as":"i"},{"flatten":["i"]},
{"calculate":"(datum.i==0||datum.i==3?datum.s:datum.s+1)/datum.n","as":"t"},
{"calculate":"datum.i<2?0:1","as":"h"},
{"calculate":"datum.w+(datum.wE-datum.w)*datum.t","as":"W"},
{"calculate":"datum.g+(datum.gN-datum.g)*datum.h","as":"G"},
{"calculate":"(1-datum.h)*(datum.z+(datum.zE-datum.z)*datum.t)+datum.h*(datum.zN+(datum.zNE-datum.zN)*datum.t)","as":"Z"},
{"calculate":"(datum.W-3)/21","as":"u"},{"calculate":"datum.G/0.2","as":"v"},
{"calculate":"597*(1-datum.u)*(1-datum.v)+1952*datum.u*(1-datum.v)+2768*datum.u*datum.v+1398*(1-datum.u)*datum.v-(9*(1-datum.u)*(1-datum.v)+15*datum.u*(1-datum.v)+13*datum.u*datum.v)*(datum.Z+10)/310","as":"px"},
{"calculate":"1168*(1-datum.u)*(1-datum.v)+1372*datum.u*(1-datum.v)+1084*datum.u*datum.v+870*(1-datum.u)*datum.v-(datum.Z+10)*(2.713*(1-datum.u)*(1-datum.v)+2.7*datum.u*(1-datum.v)+2.726*datum.u*datum.v+2.677*(1-datum.u)*datum.v)","as":"py"}
],
"mark":{"type":"line","strokeWidth":1.2,"strokeJoin":"round"},
"encoding":{"detail":{"field":"id"},"order":{"field":"i","type":"quantitative"},
"fill":{"field":"cz","type":"quantitative","legend":null,"scale":{"domain":[-10,0,10,22,40,55,73,101,146,175,205,262,280,317],"range":["#5c0070","#70009a","#7800c8","#7000ff","#0000ff","#0064ff","#00ffff","#00ff00","#ffff00","#ff9000","#ff0000","#ff0000","#d00000","#a00000"]}},
"stroke":{"field":"cz","type":"quantitative","legend":null,"scale":{"domain":[-10,0,10,22,40,55,73,101,146,175,205,262,280,317],"range":["#5c0070","#70009a","#7800c8","#7000ff","#0000ff","#0064ff","#00ffff","#00ff00","#ffff00","#ff9000","#ff0000","#ff0000","#d00000","#a00000"]}}}},
{"data":{"name":"grid"},
"transform":[{"calculate":"(datum.w-3)/21","as":"u"},{"calculate":"datum.g/0.2","as":"v"},
{"calculate":"597*(1-datum.u)*(1-datum.v)+1952*datum.u*(1-datum.v)+2768*datum.u*datum.v+1398*(1-datum.u)*datum.v-(9*(1-datum.u)*(1-datum.v)+15*datum.u*(1-datum.v)+13*datum.u*datum.v)*(datum.z+10)/310","as":"px"},
{"calculate":"1168*(1-datum.u)*(1-datum.v)+1372*datum.u*(1-datum.v)+1084*datum.u*datum.v+870*(1-datum.u)*datum.v-(datum.z+10)*(2.713*(1-datum.u)*(1-datum.v)+2.7*datum.u*(1-datum.v)+2.726*datum.u*datum.v+2.677*(1-datum.u)*datum.v)","as":"py"}],
"layer":[
{"mark":{"type":"line","stroke":"#808080","strokeWidth":1.4},"encoding":{"detail":{"field":"g"},"order":{"field":"w","type":"quantitative"}}},
{"mark":{"type":"line","stroke":"#808080","strokeWidth":1.4},"encoding":{"detail":{"field":"w"},"order":{"field":"g","type":"quantitative"}}}
]},
{"data":{"name":"anno"},
"transform":[{"calculate":"(datum.w-3)/21","as":"u"},{"calculate":"datum.g/0.2","as":"v"},
{"calculate":"597*(1-datum.u)*(1-datum.v)+1952*datum.u*(1-datum.v)+2768*datum.u*datum.v+1398*(1-datum.u)*datum.v-(9*(1-datum.u)*(1-datum.v)+15*datum.u*(1-datum.v)+13*datum.u*datum.v)*(datum.z+10)/310","as":"px"},
{"calculate":"1168*(1-datum.u)*(1-datum.v)+1372*datum.u*(1-datum.v)+1084*datum.u*datum.v+870*(1-datum.u)*datum.v-(datum.z+10)*(2.713*(1-datum.u)*(1-datum.v)+2.7*datum.u*(1-datum.v)+2.726*datum.u*datum.v+2.677*(1-datum.u)*datum.v)","as":"py"},
{"calculate":"datum.dir=='left'?datum.px-(datum.major?42:22):datum.px","as":"px2"},
{"calculate":"datum.dir=='down'?datum.py+(datum.major?42:22):datum.py","as":"py2"}],
"layer":[
{"transform":[{"filter":"datum.part=='contour'"}],"mark":{"type":"line","stroke":"black","strokeWidth":3.5},"encoding":{"order":{"field":"n","type":"quantitative"}}},
{"transform":[{"filter":"datum.part=='arrow'"}],"mark":{"type":"line","stroke":"black","strokeWidth":2},"encoding":{"order":{"field":"n","type":"quantitative"}}},
{"transform":[{"filter":"datum.part=='tri'"}],"mark":{"type":"line","fill":"black","stroke":"black","strokeWidth":1},"encoding":{"order":{"field":"n","type":"quantitative"}}},
{"transform":[{"filter":"datum.part=='tick'"}],"mark":{"type":"rule","stroke":"black","strokeWidth":5},"encoding":{"x2":{"field":"px2"},"y2":{"field":"py2"}}},
{"transform":[{"filter":"datum.part=='zlab'"}],"mark":{"type":"text","font":"Liberation Serif","fontSize":104,"align":"right","baseline":"alphabetic","dx":-72,"dy":38,"fill":"black"},"encoding":{"text":{"field":"label"}}},
{"transform":[{"filter":"datum.part=='xlab'"}],"mark":{"type":"text","font":"Liberation Serif","fontSize":104,"align":"center","baseline":"alphabetic","dy":168,"fill":"black"},"encoding":{"text":{"field":"label"}}},
{"transform":[{"filter":"datum.part=='xtitle'"}],"mark":{"type":"text","font":"Liberation Serif","fontSize":106,"align":"center","baseline":"alphabetic","dy":296,"fill":"black"},"encoding":{"text":{"field":"label"}}},
{"transform":[{"filter":"datum.part=='gtitle'"}],"mark":{"type":"text","font":"Liberation Serif","fontStyle":"italic","fontSize":106,"align":"center","baseline":"alphabetic","dy":298,"fill":"black"},"encoding":{"text":{"field":"label"}}},
{"transform":[{"filter":"datum.part=='ztitle'"}],"mark":{"type":"text","font":"Liberation Serif","fontSize":107,"align":"center","baseline":"alphabetic","angle":270,"dy":-459,"fill":"black"},"encoding":{"text":{"field":"label"}}},
{"transform":[{"filter":"datum.part=='note'"}],"mark":{"type":"text","font":"Liberation Serif","fontSize":93,"align":"center","baseline":"alphabetic","fill":"black"},"encoding":{"text":{"field":"label"}}}
]}
]}
